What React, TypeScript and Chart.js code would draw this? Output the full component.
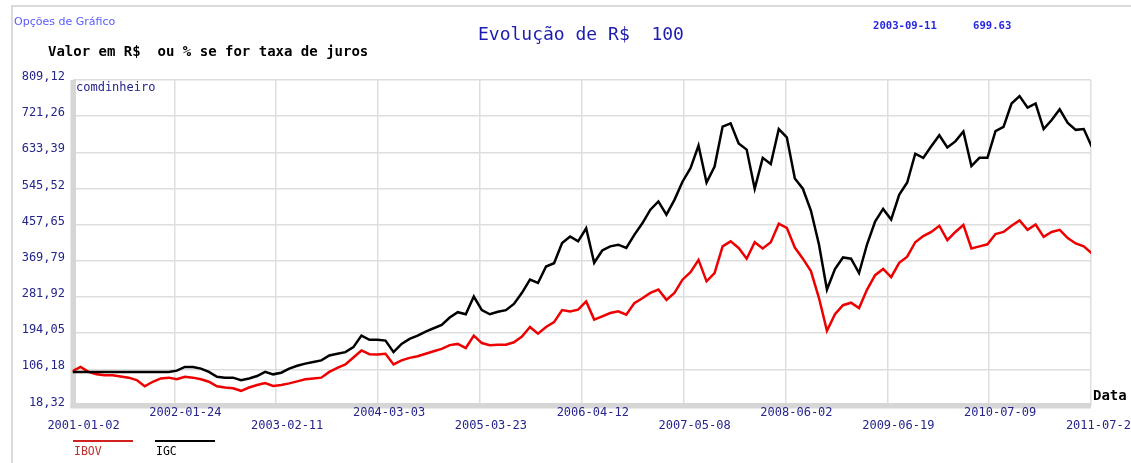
import React, { useEffect, useRef } from "react";
import { Chart, registerables } from "chart.js";

Chart.register(...registerables);

// Monthly samples, 2001-01 .. 2011-07 (value of R$ 100 invested on 2001-01-02)
const IGC = [
  100, 100, 100, 100, 100, 100, 100, 100, 100, 100, 100, 100, 100,
  103, 112, 112, 108, 100, 88, 86, 86, 80, 84, 90, 100, 94, 98, 108, 115, 120, 124, 128, 140,
  144, 148, 160, 188, 178, 178, 176, 148, 168, 180, 188, 198, 206, 214, 232, 245, 240, 283, 250, 240, 246, 250, 265,
  292, 324, 316, 356, 364, 413, 429, 417,
  449, 365, 395, 405, 409, 401, 433, 461, 494, 514, 482, 518, 562, 595, 650, 560, 599, 696, 704, 655,
  640, 545, 620, 605, 690, 670, 570, 545, 492, 410, 300, 350, 378, 375, 340, 410, 465, 496, 470, 530,
  560, 630, 620, 648, 675, 645, 660, 684, 600, 620, 620, 685, 695, 752, 770, 742, 752, 690, 712, 738,
  705, 688, 690, 647,
];

const IBOV = [
  102, 112, 100, 94, 92, 92, 89, 86, 80, 65, 76, 84, 86,
  82, 88, 86, 82, 76, 65, 62, 60, 54, 62, 68, 73, 66, 68, 72, 77, 82, 84, 86, 100,
  110, 118, 135, 152, 143, 142, 144, 118, 128, 134, 138, 144, 150, 156, 165, 168, 158, 188, 170, 165, 166, 166, 172,
  186, 209, 193, 209, 221, 250, 247, 251,
  271, 227, 235, 243, 247, 239, 267, 279, 292, 300, 275, 292, 324, 342, 372, 320, 340, 405, 417, 401,
  375, 415, 400, 415, 460, 450, 402, 375, 345, 280, 200, 240, 262, 268, 255, 300, 335, 350, 330, 365,
  380, 415, 430, 440, 455, 420, 440, 457, 400, 405, 410, 435, 440, 455, 468, 445, 458, 428, 440, 445,
  425, 412, 405, 388,
];

const X_SPAN = 126.9; // months covered by the axis
const X_TICK_LABELS = [
  "2001-01-02", "2002-01-24", "2003-02-11", "2004-03-03", "2005-03-23", "2006-04-12",
  "2007-05-08", "2008-06-02", "2009-06-19", "2010-07-09", "2011-07-29",
];
const Y_TICK_VALUES = [18.32, 106.18, 194.05, 281.92, 369.79, 457.65, 545.52, 633.39, 721.26, 809.12];
const Y_TICK_LABELS = ["18,32", "106,18", "194,05", "281,92", "369,79", "457,65", "545,52", "633,39", "721,26", "809,12"];

const SERIES_NAMES = ["IBOV", "IGC"];
const SERIES_COLORS = ["#ee0000", "#000000"];

const MONO = '"DejaVu Sans Mono", monospace';
const NAVY = "#24248c";

export default function App() {
  const ref = useRef<HTMLCanvasElement>(null);

  useEffect(() => {
    document.body.style.margin = "0";
    const canvas = ref.current!;
    const deco = {
      id: "deco",
      beforeDraw(chart: any) {
        const c = chart.ctx;
        c.save();
        c.fillStyle = "#ffffff";
        c.fillRect(0, 0, chart.width, chart.height);
        c.fillStyle = "#dadada";
        c.fillRect(11, 5, chart.width - 11, 2);
        c.fillRect(11, 5, 2, chart.height - 5);
        c.restore();
      },
      beforeDatasetsDraw(chart: any) {
        const c = chart.ctx;
        const { left, right, top, bottom } = chart.chartArea;
        c.save();
        c.fillStyle = "#d6d6d6";
        c.fillRect(left - 2, top, 5.5, bottom - top + 2);
        c.fillRect(left - 2, bottom - 2.5, right - left + 2, 5.5);
        c.restore();
      },
      afterDraw(chart: any) {
        const c = chart.ctx;
        const xs = chart.scales.x;
        const ys = chart.scales.y;
        c.save();
        c.textBaseline = "middle";
        // y tick labels
        c.font = `12px ${MONO}`;
        c.fillStyle = NAVY;
        c.textAlign = "right";
        Y_TICK_VALUES.forEach((v, i) => {
          c.fillText(Y_TICK_LABELS[i], 65, ys.getPixelForValue(v) - 3);
        });
        // x tick labels (staggered)
        c.textAlign = "center";
        X_TICK_LABELS.forEach((lab, i) => {
          const x = xs.getPixelForValue((i * X_SPAN) / (X_TICK_LABELS.length - 1)) + 11;
          c.fillText(lab, x, i % 2 === 1 ? 413 : 426);
        });
        // texts
        c.textAlign = "left";
        c.fillText("comdinheiro", 76, 88);
        c.font = `11px "DejaVu Sans", sans-serif`;
        c.fillStyle = "#5a5aff";
        c.fillText("Opções de Gráfico", 14, 22);
        c.font = `bold 14px ${MONO}`;
        c.fillStyle = "#000000";
        c.fillText("Valor em R$  ou % se for taxa de juros", 48, 52);
        c.fillText("Data", 1093, 396);
        c.font = `18px ${MONO}`;
        c.fillStyle = "#1c1cb0";
        c.fillText("Evolução de R$  100", 478, 35);
        c.font = `bold 10.6px ${MONO}`;
        c.fillStyle = "#2626e0";
        c.fillText("2003-09-11", 873, 26);
        c.fillText("699.63", 973, 26);
        // legend
        const legX = [73, 155];
        SERIES_NAMES.forEach((name, i) => {
          c.fillStyle = i === 0 ? "#d02020" : "#000000";
          c.fillRect(legX[i], 440, 60, 2);
          c.font = `11.5px ${MONO}`;
          c.fillStyle = i === 0 ? "#c03030" : "#000000";
          c.fillText(name, legX[i] + 1, 452);
        });
        c.restore();
      },
    };

    const chart = new Chart(canvas, {
      type: "line",
      data: {
        datasets: [
          {
            label: SERIES_NAMES[1],
            data: IGC.map((v, i) => ({ x: i, y: v })),
            borderColor: SERIES_COLORS[1],
            borderWidth: 2.5,
            pointRadius: 0,
            tension: 0,
            order: 1,
          },
          {
            label: SERIES_NAMES[0],
            data: IBOV.map((v, i) => ({ x: i, y: v })),
            borderColor: SERIES_COLORS[0],
            borderWidth: 2.5,
            pointRadius: 0,
            tension: 0,
            order: 2,
          },
        ],
      },
      options: {
        animation: false,
        responsive: false,
        maintainAspectRatio: false,
        layout: { padding: { left: 72.5, top: 80, right: 40, bottom: 57.5 } },
        plugins: {
          legend: { display: false },
          tooltip: { enabled: false },
          title: { display: false },
        },
        scales: {
          x: {
            type: "linear",
            min: 0,
            max: X_SPAN,
            afterBuildTicks: (s: any) => {
              s.ticks = X_TICK_LABELS.map((_, i) => ({ value: (i * X_SPAN) / (X_TICK_LABELS.length - 1) }));
            },
            ticks: { display: false },
            grid: { color: "#dedede", lineWidth: 1.5, drawTicks: false },
            border: { display: false },
          },
          y: {
            type: "linear",
            min: Y_TICK_VALUES[0],
            max: Y_TICK_VALUES[Y_TICK_VALUES.length - 1],
            afterBuildTicks: (s: any) => {
              s.ticks = Y_TICK_VALUES.map((v) => ({ value: v }));
            },
            ticks: { display: false },
            grid: { color: "#dedede", lineWidth: 1.5, drawTicks: false },
            border: { display: false },
          },
        },
      },
      plugins: [deco],
    } as any);
    return () => chart.destroy();
  }, []);

  return <canvas ref={ref} width={1131} height={463} style={{ display: "block" }} />;
}
